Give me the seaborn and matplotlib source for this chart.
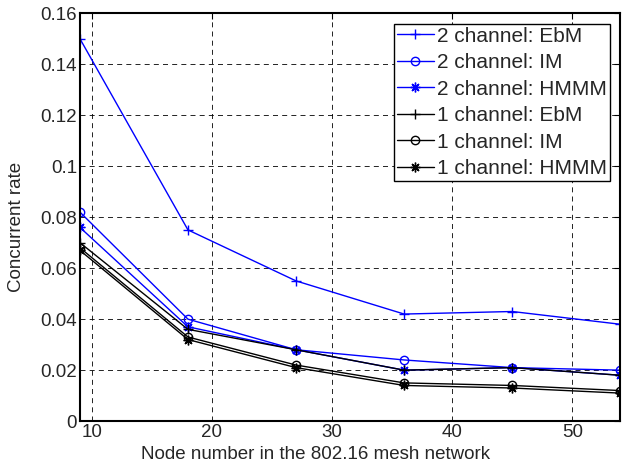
import matplotlib
matplotlib.use("Agg")
import matplotlib.pyplot as plt
import seaborn as sns
import pandas as pd

sns.set_style("white")
plt.rcParams['font.family'] = ['Liberation Sans', 'DejaVu Sans']

nodes = [9, 18, 27, 36, 45, 54]
ch2_ebm = [0.150, 0.075, 0.055, 0.042, 0.043, 0.038]
ch2_im = [0.082, 0.040, 0.028, 0.024, 0.021, 0.020]
ch2_hmmm = [0.076, 0.037, 0.028, 0.020, 0.021, 0.018]
ch1_ebm = [0.070, 0.036, 0.028, 0.020, 0.021, 0.018]
ch1_im = [0.068, 0.033, 0.022, 0.015, 0.014, 0.012]
ch1_hmmm = [0.067, 0.032, 0.021, 0.014, 0.013, 0.011]

ASTER = (8, 2, 0)
series = [
    ("2 channel: EbM", ch2_ebm, "#0000ff", "+"),
    ("2 channel: IM", ch2_im, "#0000ff", "o"),
    ("2 channel: HMMM", ch2_hmmm, "#0000ff", ASTER),
    ("1 channel: EbM", ch1_ebm, "black", "+"),
    ("1 channel: IM", ch1_im, "black", "o"),
    ("1 channel: HMMM", ch1_hmmm, "black", ASTER),
]

fig = plt.figure(figsize=(6.24, 4.69), dpi=100)
ax = fig.add_axes([0.128, 0.102, 0.866, 0.870])

for name, vals, col, mk in series:
    df = pd.DataFrame({"x": nodes, "y": vals})
    if mk == "o":
        kw = dict(markersize=6, markeredgewidth=1.0, markerfacecolor="none", markeredgecolor=col)
    else:
        kw = dict(markersize=7, markeredgewidth=1.0, markeredgecolor=col, markerfacecolor=col)
    sns.lineplot(data=df, x="x", y="y", ax=ax, color=col, marker=mk,
                 linewidth=1.0, label=name, **kw)

ax.set_xlim(9, 54)
ax.set_ylim(0, 0.16)
ax.set_xticks([10, 20, 30, 40, 50])
ax.set_yticks([0, 0.02, 0.04, 0.06, 0.08, 0.1, 0.12, 0.14, 0.16])
ax.set_yticklabels(["0", "0.02", "0.04", "0.06", "0.08", "0.1", "0.12", "0.14", "0.16"])
ax.grid(True, color="black", linestyle=(0, (6, 5)), linewidth=0.6)
ax.tick_params(direction="in", top=True, right=True, labelsize=13.5, length=4,
               color="black", pad=2)
for s in ax.spines.values():
    s.set_color("black")
    s.set_linewidth(1.5)
ax.set_xlabel("Node number in the 802.16 mesh network", fontsize=13.5)
ax.set_ylabel("Concurrent rate", fontsize=13.5)
ax.xaxis.set_label_coords(0.437, -0.062)
ax.yaxis.set_label_coords(-0.101, 0.475)

leg = ax.legend(loc="upper right", fontsize=15, frameon=True, fancybox=False,
                edgecolor="black", framealpha=1, handlelength=1.75, handletextpad=0.15,
                borderpad=0.15, labelspacing=0.36, borderaxespad=0.5)
leg.get_frame().set_linewidth(1.0)

fig.savefig("out.png", dpi=100)
